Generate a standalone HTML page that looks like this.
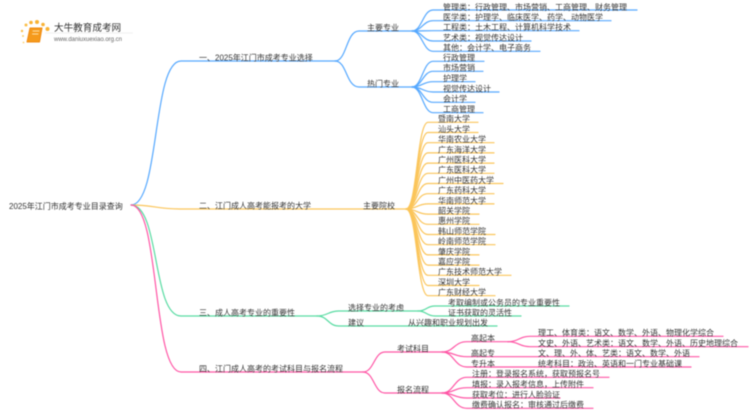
<!DOCTYPE html>
<html lang="zh">
<head>
<meta charset="utf-8">
<title>2025年江门市成考专业目录查询</title>
<style>
html,body{margin:0;padding:0;background:#fff;width:750px;height:410px;overflow:hidden}
svg{display:block;filter:blur(.45px)}
text{font-family:"Liberation Sans","Noto Sans CJK SC",sans-serif;font-size:8px;fill:#333}
path{fill:none;stroke-linecap:round}
.b path{stroke:#55a8ff;stroke-width:1.2}
.o path{stroke:#fbc55a;stroke-width:1.2}
.g path{stroke:#58dba2;stroke-width:1.2}
.p path{stroke:#ff55a5;stroke-width:1.2}
</style>
</head>
<body>
<svg width="750" height="410" viewBox="0 0 750 410" xmlns="http://www.w3.org/2000/svg">
<!-- logo -->
<g>
<circle cx="22" cy="31" r="1.2" fill="#fbc04a"/><circle cx="23" cy="36" r="1" fill="#fbd070"/>
<circle cx="26" cy="25" r="1.5" fill="#fbc04a"/><circle cx="31" cy="22.5" r="1.8" fill="#f9b233"/>
<circle cx="37" cy="22" r="2" fill="#f9b233"/><circle cx="43" cy="24.5" r="1.8" fill="#f9b233"/>
<circle cx="47.5" cy="29" r="2" fill="#f9b233"/><circle cx="23.500" cy="42.500" r=".9" fill="#fbd070"/>
<path d="M30 28H42L39.500 42H27Z" style="fill:#f59a1c;stroke:#f08a10;stroke-width:1;stroke-linejoin:round"/>
<path d="M33 31H39M32.500 34H38" style="stroke:#fde0a8;stroke-width:1"/>
<line x1="45" y1="33" x2="133" y2="33" stroke="#e6e6e6" stroke-width=".6"/>
<text x="54" y="31" style="font-size:9.600px;fill:#333">大牛教育成考网</text>
<text x="54" y="41" style="font-size:6px;fill:#666" textLength="68">www.daniuxuexiao.org.cn</text>
</g>

<!-- blue -->
<g class="b">
<path d="M131 205C160 205 152 61 181 61H336"/>
<path d="M335 61C347 61 346 31 359 31H412"/>
<path d="M335 61C347 61 346 87 359 87H412"/>
<path d="M412 31C422 31 423 10 433 10H637"/>
<path d="M412 31C422 31 423 20.700 433 20.700H611"/>
<path d="M412 31C422 31 423 30.700 433 30.700H579"/>
<path d="M412 31C422 31 423 41 433 41H531"/>
<path d="M412 31C422 31 423 51.300 433 51.300H540"/>
<path d="M412 87C422 87 423 61.300 433 61.300H484"/>
<path d="M412 87C422 87 423 71.300 433 71.300H483"/>
<path d="M412 87C422 87 423 81.700 433 81.700H475"/>
<path d="M412 87C422 87 423 92 433 92H499"/>
<path d="M412 87C422 87 423 102.300 433 102.300H475"/>
<path d="M412 87C422 87 423 112.700 433 112.700H483"/>
</g>

<!-- orange -->
<g class="o">
<path d="M131 205C155 205 155 209 180 209H406"/>
<path d="M406 209C417 209 417 122.300 428 122.300H478"/>
<path d="M406 209C417 209 417 132.500 428 132.500H478"/>
<path d="M406 209C417 209 417 142.700 428 142.700H494"/>
<path d="M406 209C417 209 417 152.900 428 152.900H494"/>
<path d="M406 209C417 209 417 163.100 428 163.100H494"/>
<path d="M406 209C417 209 417 173.300 428 173.300H494"/>
<path d="M406 209C417 209 417 183.500 428 183.500H503"/>
<path d="M406 209C417 209 417 193.700 428 193.700H494"/>
<path d="M406 209C417 209 417 203.900 428 203.900H494"/>
<path d="M406 209C417 209 417 214.100 428 214.100H479"/>
<path d="M406 209C417 209 417 224.300 428 224.300H479"/>
<path d="M406 209C417 209 417 234.500 428 234.500H495"/>
<path d="M406 209C417 209 417 244.700 428 244.700H495"/>
<path d="M406 209C417 209 417 254.900 428 254.900H479"/>
<path d="M406 209C417 209 417 265.100 428 265.100H479"/>
<path d="M406 209C417 209 417 275.300 428 275.300H511"/>
<path d="M406 209C417 209 417 285.500 428 285.500H479"/>
<path d="M406 209C417 209 417 295.700 428 295.700H495"/>
</g>

<!-- green -->
<g class="g">
<path d="M131 205C160 205 152 316 181 316H317"/>
<path d="M317 316C328 316 328 311 339 311H418"/>
<path d="M317 316C328 316 328 326 339 326H497"/>
<path d="M418 311C427 311 426 306 435 306H569"/>
<path d="M418 311C427 311 426 316 435 316H521"/>
</g>

<!-- pink -->
<g class="p">
<path d="M131 205C160 205 152 372 181 372H363"/>
<path d="M363 372C374 372 374 352 385 352H442"/>
<path d="M363 372C374 372 374 393 385 393H442"/>
<path d="M442 352C454 352 454 341.700 467 341.700H508"/>
<path d="M442 352C454 352 454 356.700 467 356.700H699"/>
<path d="M442 352C454 352 454 367 467 367H691"/>
<path d="M508 341.700C519 341.700 519 336.300 530 336.300H723"/>
<path d="M508 341.700C519 341.700 519 346.700 530 346.700H748"/>
<path d="M442 393C454 393 454 377.300 467 377.300H609"/>
<path d="M442 393C454 393 454 387.700 467 387.700H593"/>
<path d="M442 393C454 393 454 398 467 398H560"/>
<path d="M442 393C454 393 454 408.300 467 408.300H593"/>
</g>

<!-- labels -->
<g transform="translate(0 .4)">
<text x="9" y="208.500">2025年江门市成考专业目录查询</text>
<text x="199" y="60">一、2025年江门市成考专业选择</text>
<text x="199" y="208">二、江门成人高考能报考的大学</text>
<text x="199" y="315">三、成人高考专业的重要性</text>
<text x="199" y="371">四、江门成人高考的考试科目与报名流程</text>

<text x="367" y="30">主要专业</text>
<text x="367" y="86">热门专业</text>
<text x="363" y="208">主要院校</text>
<text x="348" y="310">选择专业的考虑</text>
<text x="348" y="325">建议</text>
<text x="397" y="351">考试科目</text>
<text x="397" y="392">报名流程</text>

<text x="443" y="9.500">管理类：行政管理、市场营销、工商管理、财务管理</text>
<text x="443" y="19.700">医学类：护理学、临床医学、药学、动物医学</text>
<text x="443" y="29.700">工程类：土木工程、计算机科学技术</text>
<text x="443" y="40">艺术类：视觉传达设计</text>
<text x="443" y="50.300">其他：会计学、电子商务</text>
<text x="443" y="60.300">行政管理</text>
<text x="443" y="70.300">市场营销</text>
<text x="443" y="80.700">护理学</text>
<text x="443" y="91">视觉传达设计</text>
<text x="443" y="101.300">会计学</text>
<text x="443" y="111.700">工商管理</text>

<text x="438" y="121.300">暨南大学</text>
<text x="438" y="131.500">汕头大学</text>
<text x="438" y="141.700">华南农业大学</text>
<text x="438" y="151.900">广东海洋大学</text>
<text x="438" y="162.100">广州医科大学</text>
<text x="438" y="172.300">广东医科大学</text>
<text x="438" y="182.500">广州中医药大学</text>
<text x="438" y="192.700">广东药科大学</text>
<text x="438" y="202.900">华南师范大学</text>
<text x="438" y="213.100">韶关学院</text>
<text x="438" y="223.300">惠州学院</text>
<text x="438" y="233.500">韩山师范学院</text>
<text x="438" y="243.700">岭南师范学院</text>
<text x="438" y="253.900">肇庆学院</text>
<text x="438" y="264.100">嘉应学院</text>
<text x="438" y="274.300">广东技术师范大学</text>
<text x="438" y="284.500">深圳大学</text>
<text x="438" y="294.700">广东财经大学</text>

<text x="448" y="305">考取编制或公务员的专业重要性</text>
<text x="448" y="315">证书获取的灵活性</text>
<text x="408" y="325">从兴趣和职业规划出发</text>

<text x="471" y="340.700">高起本</text>
<text x="471" y="355.700">高起专</text>
<text x="471" y="366">专升本</text>
<text x="538" y="335.300">理工、体育类：语文、数学、外语、物理化学综合</text>
<text x="538" y="345.700">文史、外语、艺术类：语文、数学、外语、历史地理综合</text>
<text x="538" y="355.700">文、理、外、体、艺类：语文、数学、外语</text>
<text x="538" y="366">统考科目：政治、英语和一门专业基础课</text>
<text x="472" y="376.300">注册：登录报名系统，获取预报名号</text>
<text x="472" y="386.700">填报：录入报考信息，上传附件</text>
<text x="472" y="397">获取考位：进行人脸验证</text>
<text x="472" y="407.300">缴费确认报名：审核通过后缴费</text>
</g>
</svg>
</body>
</html>
